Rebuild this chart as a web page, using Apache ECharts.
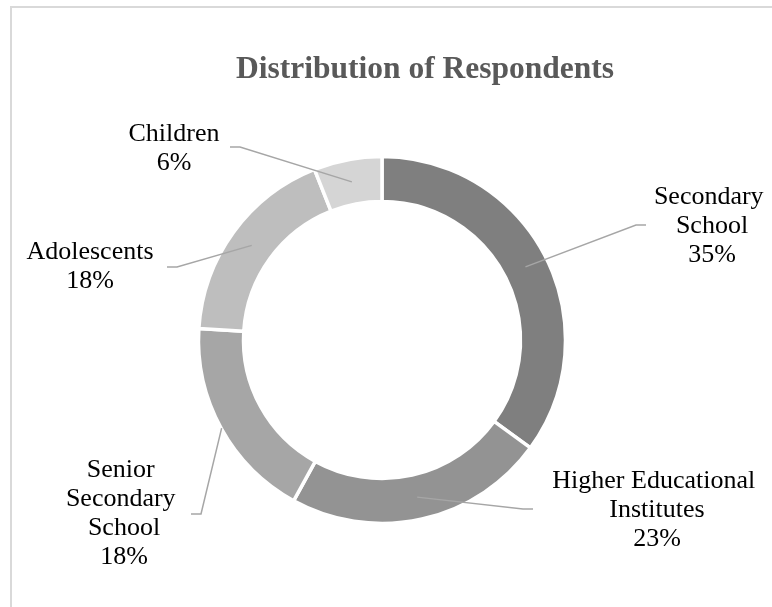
<!DOCTYPE html>
<html>
<head>
<meta charset="utf-8">
<script src="https://cdn.jsdelivr.net/npm/echarts@6/dist/echarts.min.js"></script>
<style>
html,body{margin:0;padding:0;background:#fff;}
#chart{width:772px;height:607px;}
</style>
</head>
<body>
<div id="chart"></div>
<script>
// ---- data ----
const categories = ['Secondary School', 'Higher Educational Institutes', 'Senior Secondary School', 'Adolescents', 'Children'];
const shares = [35, 23, 18, 18, 6];
const colors = ['#7f7f7f', '#939393', '#a6a6a6', '#bebebe', '#d5d5d5'];

// ---- layout (label placement, not data) ----
const CX = 382, CY = 340;
const labelCenters = [[712, 226], [657, 510], [124, 514], [90, 267], [174, 149]];
const labelWidths = [125, 220, 118, 140, 110];
const leaderEnds = [[646, 225], [533, 509], [191, 514], [167, 267], [230, 147]];
const leaderStartR = [161, 161, 183, 161, 161];

const total = shares.reduce((a, b) => a + b, 0);
const midAngles = [];
(function () {
  let cum = 0;
  shares.forEach(v => { midAngles.push((cum + v / 2) / total * 2 * Math.PI); cum += v; });
})();

const pieBase = {
  type: 'pie',
  center: [CX, CY],
  radius: [138.5, 183.5],
  startAngle: 90,
  clockwise: true,
  avoidLabelOverlap: false
};

const chart = echarts.init(document.getElementById('chart'), null, { renderer: 'canvas' });
const option = {
  animation: false,
  backgroundColor: '#ffffff',
  title: {
    text: 'Distribution of Respondents',
    left: 231,
    top: 49,
    textStyle: { fontFamily: 'Liberation Serif', fontSize: 31.5, fontWeight: 'bold', color: '#595959' }
  },
  graphic: [{
    type: 'rect', z: -1, silent: true,
    shape: { x: 11, y: 7, width: 820, height: 700 },
    style: { fill: 'none', stroke: '#d9d9d9', lineWidth: 2 }
  }],
  series: [
    Object.assign({}, pieBase, {
      z: 2,
      itemStyle: { borderColor: '#ffffff', borderWidth: 3.5 },
      label: { show: false },
      labelLine: { show: false },
      data: categories.map((name, i) => ({
        name: name,
        value: shares[i],
        itemStyle: { color: colors[i] }
      }))
    }),
    Object.assign({}, pieBase, {
      z: 5,
      silent: true,
      itemStyle: { color: 'rgba(0,0,0,0)', borderWidth: 0 },
      label: {
        show: true,
        position: 'outside',
        fontFamily: 'Liberation Serif',
        fontSize: 26,
        lineHeight: 29,
        color: '#000000',
        align: 'center',
        overflow: 'break',
        formatter: p => p.name + '\n' + Math.round(p.percent) + '%'
      },
      labelLine: { show: true, lineStyle: { color: '#a6a6a6', width: 1.5 } },
      labelLayout: function (p) {
        const i = p.dataIndex;
        const a = midAngles[i];
        const r = leaderStartR[i];
        const start = [CX + r * Math.sin(a), CY - r * Math.cos(a)];
        const end = leaderEnds[i];
        const right = labelCenters[i][0] > CX;
        const bend = [end[0] + (right ? -10 : 10), end[1]];
        return {
          x: labelCenters[i][0],
          y: labelCenters[i][1],
          align: 'center',
          verticalAlign: 'middle',
          labelLinePoints: [start, bend, end]
        };
      },
      data: categories.map((name, i) => ({
        name: name,
        value: shares[i],
        label: { width: labelWidths[i] }
      }))
    })
  ]
};
chart.setOption(option);
</script>
</body>
</html>
